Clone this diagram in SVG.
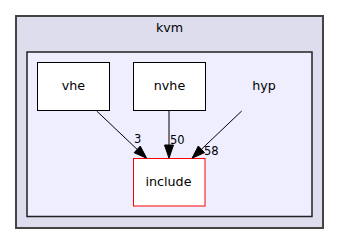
<svg xmlns="http://www.w3.org/2000/svg" width="339" height="244" viewBox="0 0 339 244">
  <style>
    .lbl { font-family: "DejaVu Sans", sans-serif; font-size: 12.7px; fill: #000; text-anchor: middle; }
    .elbl { font-family: "DejaVu Sans", sans-serif; font-size: 11.5px; fill: #000; }
    .node { fill: #ffffff; stroke: #000000; stroke-width: 1; }
    .edge { stroke: #000000; stroke-width: 1; fill: none; }
    .head { fill: #000000; stroke: #000000; stroke-width: 1; }
  </style>
  <rect width="339" height="244" fill="#ffffff"/>
  <!-- outer directory cluster -->
  <g id="cluster_kvm">
    <rect x="16" y="16" width="307" height="212" fill="#ddddee" stroke="#444444" stroke-width="2"/>
    <text class="lbl" x="169.5" y="31.5">kvm</text>
  </g>
  <!-- inner directory cluster -->
  <g id="cluster_hyp">
    <rect x="27" y="52" width="285" height="164.5" fill="#eeeeff" stroke="#222222" stroke-width="1.5"/>
    <text class="lbl" x="264" y="90">hyp</text>
  </g>
  <g id="node_vhe">
    <rect class="node" x="37.5" y="62.5" width="72" height="48"/>
    <text class="lbl" x="73.5" y="90">vhe</text>
  </g>
  <g id="node_nvhe">
    <rect class="node" x="133.5" y="62.5" width="72" height="48"/>
    <text class="lbl" x="169.5" y="90">nvhe</text>
  </g>
  <g id="node_include">
    <rect class="node" x="133.5" y="158.5" width="71.5" height="47.5" style="stroke:#ff0000"/>
    <text class="lbl" x="168.5" y="186">include</text>
  </g>
  <g id="edges">
    <!-- vhe -> include -->
    <line class="edge" x1="96.7" y1="111" x2="137.2" y2="149.4"/>
    <polygon class="head" points="134.1,152.7 140.3,146.1 146.7,158.3"/>
    <text class="elbl" x="134" y="142.5">3</text>
    <!-- nvhe -> include -->
    <line class="edge" x1="169" y1="111" x2="169" y2="145"/>
    <polygon class="head" points="164.5,145 173.5,145 169,158.3"/>
    <text class="elbl" x="170" y="143.5">50</text>
    <!-- hyp -> include -->
    <line class="edge" x1="241.7" y1="111" x2="201.4" y2="149.3"/>
    <polygon class="head" points="204.5,152.6 198.3,146 192,158.3"/>
    <text class="elbl" x="204" y="154.5">58</text>
  </g>
</svg>
